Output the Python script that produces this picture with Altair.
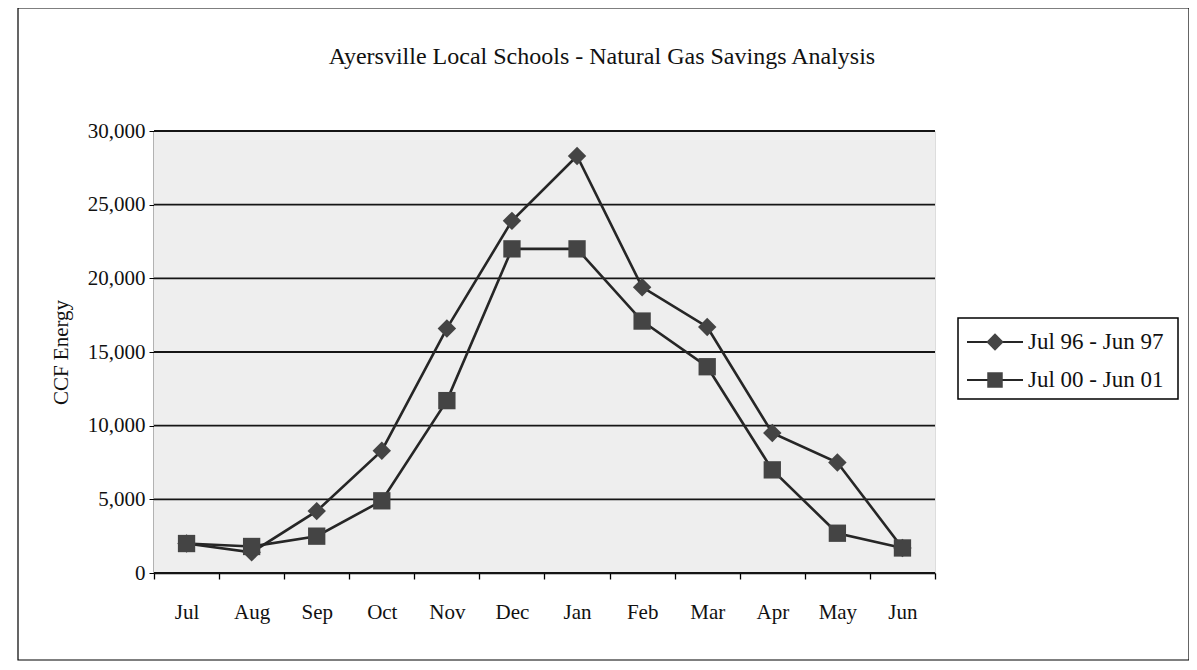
import altair as alt
import pandas as pd

months = ["Jul", "Aug", "Sep", "Oct", "Nov", "Dec", "Jan", "Feb", "Mar", "Apr", "May", "Jun"]
series_names = ["Jul 96 - Jun 97", "Jul 00 - Jun 01"]
series_shapes = ["diamond", "square"]
usage_96_97 = [2000, 1400, 4200, 8300, 16600, 23900, 28300, 19400, 16700, 9500, 7500, 1700]
usage_00_01 = [2000, 1800, 2500, 4900, 11700, 22000, 22000, 17100, 14000, 7000, 2700, 1700]
y_ticks = [0, 5000, 10000, 15000, 20000, 25000, 30000]
title_text = "Ayersville Local Schools -  Natural Gas Savings Analysis"

rows = []
for name, vals in zip(series_names, [usage_96_97, usage_00_01]):
    for m, v in zip(months, vals):
        rows.append({"month": m, "series": name, "value": v})
df = pd.DataFrame(rows)
grid_df = pd.DataFrame({"value": y_ticks})

FONT = "Liberation Serif"
INK = "#262626"
MARK = "#444444"

x_enc = alt.X(
    "month:N", sort=months,
    scale=alt.Scale(type="band", paddingInner=0, paddingOuter=0),
    axis=alt.Axis(title=None, tickBand="extent", labelAngle=0, tickSize=6,
                  labelPadding=22, labelFont=FONT, labelFontSize=21,
                  labelColor="#111", domainColor="black", domainWidth=1.6,
                  tickColor="black", tickWidth=1.3, grid=False),
)
y_enc = alt.Y(
    "value:Q",
    scale=alt.Scale(domain=[0, 30000], nice=False),
    axis=alt.Axis(values=y_ticks, format=",d", title="CCF Energy",
                  titleFont=FONT, titleFontSize=21, titleFontWeight="normal",
                  titleColor="#111", titlePadding=16,
                  labelFont=FONT, labelFontSize=21, labelColor="#111",
                  labelPadding=4, tickSize=5, tickColor="black",
                  domainColor="black", domainWidth=1.6, grid=False),
)

one = pd.DataFrame({"k": [0]})

plot_bg = alt.Chart(one).mark_rect(fill="#eeeeee").encode(
    x=alt.value(0), x2=alt.value(781), y=alt.value(0), y2=alt.value(442)
)

grid = alt.Chart(grid_df).mark_rule(color="#151515", strokeWidth=1.8).encode(
    y=y_enc
)

base = alt.Chart(df)

lines = base.mark_line(color=INK, strokeWidth=2.6).encode(
    x=x_enc, y=y_enc, detail="series:N"
)

points = base.mark_point(filled=True, color=MARK, opacity=1).encode(
    x=x_enc, y=y_enc,
    shape=alt.Shape(
        "series:N",
        scale=alt.Scale(domain=series_names, range=series_shapes),
        legend=None,
    ),
    size=alt.Size(
        "series:N",
        scale=alt.Scale(domain=series_names, range=[340, 300]),
        legend=None,
    ),
)

frame = alt.Chart(one).mark_rect(
    fillOpacity=0, stroke="black", strokeWidth=1.2
).encode(
    x=alt.value(-136), x2=alt.value(1035), y=alt.value(-123), y2=alt.value(529)
)

title_mark = alt.Chart(one).mark_text(
    font=FONT, fontSize=24, color="#111", align="center", baseline="middle"
).encode(x=alt.value(448), y=alt.value(-74), text=alt.value(title_text))

# hand-drawn legend (box, line samples, markers, labels)
legend_layers = [
    alt.Chart(one).mark_rect(fill="white", stroke="black", strokeWidth=1.5).encode(
        x=alt.value(804), x2=alt.value(1024), y=alt.value(187), y2=alt.value(268)
    )
]
row_y = [211, 249]
legend_sizes = [300, 240]
for name, shp, sz, yy in zip(series_names, series_shapes, legend_sizes, row_y):
    legend_layers.append(
        alt.Chart(one).mark_rule(color=INK, strokeWidth=2).encode(
            x=alt.value(813), x2=alt.value(869), y=alt.value(yy)
        )
    )
    legend_layers.append(
        alt.Chart(one).mark_point(filled=True, shape=shp, size=sz, color=MARK, opacity=1).encode(
            x=alt.value(841), y=alt.value(yy)
        )
    )
    legend_layers.append(
        alt.Chart(one).mark_text(align="left", baseline="middle", font=FONT,
                                 fontSize=23, color="#111").encode(
            x=alt.value(874), y=alt.value(yy), text=alt.value(name)
        )
    )

chart = alt.layer(plot_bg, grid, frame, title_mark, lines, points, *legend_layers).properties(
    width=781, height=442,
    autosize=alt.AutoSizeParams(type="none"),
    padding={"left": 146, "top": 123, "right": 254, "bottom": 90},
).configure_view(
    stroke="black", strokeWidth=1.5
).configure_axis(
    zindex=1
).configure(background="white")

chart.save("out.html", embed_options={"renderer": "svg", "actions": False})
